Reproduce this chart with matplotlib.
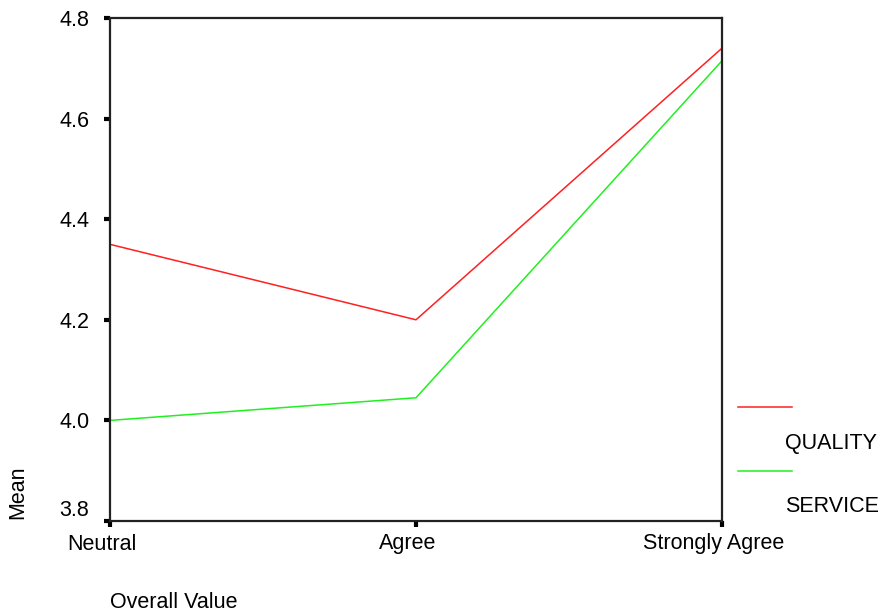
import matplotlib
matplotlib.use("Agg")
import matplotlib.pyplot as plt
import matplotlib.transforms as mtransforms
from matplotlib.lines import Line2D

plt.rcParams['font.family'] = ['Liberation Sans', 'DejaVu Sans']

# data
categories = ["Neutral", "Agree", "Strongly Agree"]
quality = [4.35, 4.20, 4.74]
service = [4.00, 4.045, 4.715]
yticks = [3.8, 4.0, 4.2, 4.4, 4.6, 4.8]

FS = 15.5

fig = plt.figure(figsize=(8.85, 6.16), dpi=100)
ax = fig.add_axes([110/885, 1 - 521/616, 612/885, 503/616])

x = range(len(categories))
ax.plot(x, quality, color="#ff2020", lw=1.1)
ax.plot(x, service, color="#20f020", lw=1.1)

ax.set_xlim(0, len(categories) - 1)
ax.set_ylim(3.8, 4.8)
ax.set_yticks(yticks)
ax.set_yticklabels(["%.1f" % v for v in yticks])
ax.set_xticks(list(x))
ax.set_xticklabels(categories)
ax.tick_params(direction="out", length=4, width=3, labelsize=FS, color="black")
ax.tick_params(axis="y", pad=11)
ax.tick_params(axis="x", pad=5)
for s in ax.spines.values():
    s.set_linewidth(1.6)
    s.set_color("#222222")

# bottom y label sits above the axis corner, x labels drift a bit left
ax.get_yticklabels()[0].set_va("bottom")
shift = mtransforms.ScaledTranslation(-8/100, 0, fig.dpi_scale_trans)
for lab in ax.get_xticklabels():
    lab.set_transform(lab.get_transform() + shift)

fig.text(18/885, 1 - 492/616, "Mean", rotation=90, fontsize=FS, ha="center", va="center")
fig.text(110/885, 1 - 603/616, "Overall Value", fontsize=FS, ha="left", va="center")

# legend: line above its label
for yl, yt, col, lab in [(407, 444, "#ff2020", "QUALITY"), (471, 507, "#20f020", "SERVICE")]:
    fig.add_artist(Line2D([738/885, 792/885], [1 - yl/616, 1 - yl/616], color=col, lw=1.1))
    fig.text(785/885, 1 - yt/616, lab, fontsize=FS, ha="left", va="center")

fig.savefig("out.png", dpi=100)
